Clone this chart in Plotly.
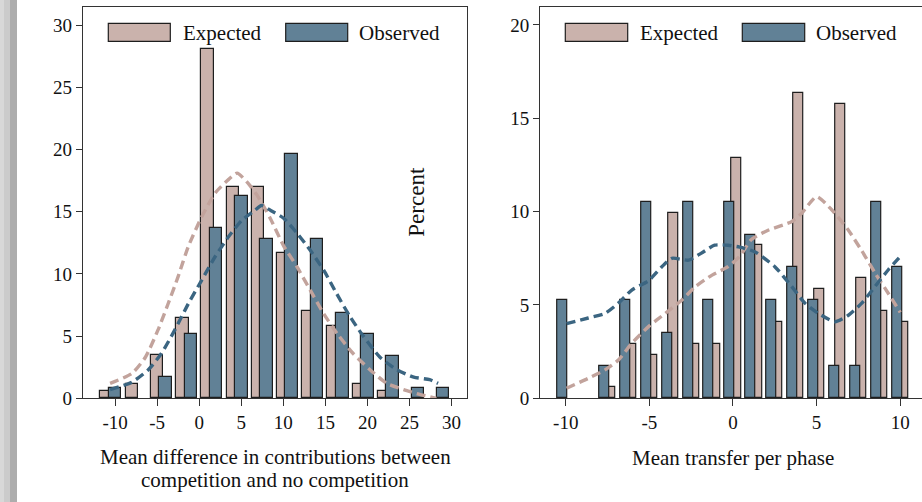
import plotly.graph_objects as go

# ---- Left panel: mean difference in contributions (percent per bin) ----
left_exp_x = [-11, -8, -5, -2, 1, 4, 7, 10, 13, 16, 19, 22]
left_exp_y = [0.58, 1.17, 3.51, 6.43, 28.07, 16.96, 16.96, 11.70, 7.02, 5.85, 1.17, 0.58]

left_obs_x = [-10, -4, -1, 2, 5, 8, 11, 14, 17, 20, 23, 26, 29]
left_obs_y = [0.85, 1.71, 5.13, 13.68, 16.24, 12.82, 19.66, 12.82, 6.84, 5.13, 3.42, 0.85, 0.85]

left_exp_curve_x = [-10.6, -8.0, -6.4, -4.9, -3.7, -2.5, -1.3, 0.3, 1.9, 3.5, 4.5, 5.8, 7.0,
                    8.5, 10.0, 11.6, 13.2, 14.8, 16.4, 18.3, 20.3, 22.3, 24.3, 26.3, 28.2]
left_exp_curve_y = [1.2, 2.0, 3.3, 5.5, 7.6, 9.8, 12.2, 14.6, 16.5, 17.6, 18.1, 17.3, 16.2,
                    14.4, 12.3, 10.6, 8.7, 6.8, 5.2, 3.6, 2.3, 1.2, 0.7, 0.3, 0.0]

left_obs_curve_x = [-10.6, -8.0, -6.05, -4.5, -2.9, -1.3, 0.3, 1.9, 3.5, 5.05, 6.6, 7.4, 8.5,
                    10.0, 11.6, 13.2, 14.8, 16.35, 17.9, 19.5, 21.5, 23.5, 25.5, 27.4, 28.4]
left_obs_curve_y = [0.7, 1.3, 2.3, 3.6, 5.5, 7.6, 9.5, 11.4, 13.0, 14.3, 15.1, 15.5, 15.1,
                    14.5, 13.3, 11.9, 10.3, 8.4, 6.6, 5.0, 3.3, 2.3, 1.7, 1.5, 1.2]

# ---- Right panel: mean transfer per phase (percent per bin) ----
right_exp_x = [-7.325, -6.075, -4.825, -3.575, -2.325, -1.075, 0.175, 1.425, 2.675,
               3.925, 5.175, 6.425, 7.675, 8.925, 10.175]
right_exp_y = [0.58, 2.92, 2.34, 9.94, 2.92, 2.92, 12.87, 8.19, 4.09,
               16.37, 5.85, 15.79, 6.43, 4.68, 4.09]

right_obs_x = [-10.2, -7.7, -6.45, -5.2, -3.95, -2.7, -1.45, -0.2, 1.05, 2.3,
               3.55, 4.8, 6.05, 7.3, 8.55, 9.8]
right_obs_y = [5.26, 1.75, 5.26, 10.53, 3.51, 10.53, 5.26, 10.53, 8.77, 5.26,
               7.02, 5.26, 1.75, 1.75, 10.53, 7.02]

right_exp_curve_x = [-9.95, -8.65, -7.65, -6.85, -6.05, -5.05, -4.05, -3.05, -2.25, -1.25,
                     -0.3, 0.4, 1.1, 2.1, 3.5, 4.1, 5.0, 5.9, 6.9, 7.7, 8.5, 9.3, 10.0]
right_exp_curve_y = [0.54, 1.07, 1.52, 2.05, 2.95, 3.84, 4.55, 5.27, 5.98, 6.6,
                     7.05, 7.6, 8.5, 9.0, 9.46, 9.9, 10.8, 10.1, 9.0, 7.9, 6.7, 5.6, 4.6]

right_obs_curve_x = [-9.95, -8.65, -7.65, -6.85, -6.05, -5.05, -4.25, -3.65, -2.65, -1.85,
                     -1.1, -0.3, 0.4, 1.3, 2.5, 3.5, 4.3, 5.1, 6.1, 6.9, 7.7, 8.5, 9.3, 10.0]
right_obs_curve_y = [4.0, 4.3, 4.55, 5.1, 5.8, 6.3, 7.05, 7.5, 7.4, 7.8,
                     8.2, 8.2, 8.1, 7.85, 7.05, 6.0, 5.1, 4.55, 4.1, 4.45, 5.1, 6.0, 6.9, 7.6]

left_xticks = [-10, -5, 0, 5, 10, 15, 20, 25, 30]
left_xlabels = ["-10", "-5", "0", "5", "10", "15", "20", "25", "30"]
left_yticks = [0, 5, 10, 15, 20, 25, 30]
right_xticks = [-10, -5, 0, 5, 10]
right_xlabels = ["-10", "-5", "0", "5", "10"]
right_yticks = [0, 5, 10, 15, 20]

series_names = ["Expected", "Observed"]
left_title = ["Mean difference in contributions between", "competition and no competition"]
right_title = "Mean transfer per phase"
y_title = "Percent"

# ---- styling ----
W, H = 922, 502
FONT = "Liberation Serif"
PINK = "#cab2ac"
BLUE = "#618196"
PINK_LINE = "#c2a39c"
BLUE_LINE = "#3b6581"
EDGE = "#1e1e1e"
AXIS = "#333333"


def px(x):
    return x / W


def py(y):
    return 1 - y / H


fig = go.Figure()


def add_bars(x, y, color, width, xa, ya):
    fig.add_trace(go.Bar(
        x=x, y=y, width=width, xaxis=xa, yaxis=ya, showlegend=False,
        marker=dict(color=color, line=dict(color=EDGE, width=1.2)),
    ))


def add_curve(x, y, color, xa, ya):
    fig.add_trace(go.Scatter(
        x=x, y=y, mode="lines", xaxis=xa, yaxis=ya, showlegend=False,
        line=dict(color=color, width=3.4, dash="9px,5px", shape="spline", smoothing=0.6),
    ))


add_bars(left_exp_x, left_exp_y, PINK, 1.5, "x", "y")
add_bars(left_obs_x, left_obs_y, BLUE, 1.5, "x", "y")
add_curve(left_exp_curve_x, left_exp_curve_y, PINK_LINE, "x", "y")
add_curve(left_obs_curve_x, left_obs_curve_y, BLUE_LINE, "x", "y")

add_bars(right_exp_x, right_exp_y, PINK, 0.6, "x2", "y2")
add_bars(right_obs_x, right_obs_y, BLUE, 0.6, "x2", "y2")
add_curve(right_exp_curve_x, right_exp_curve_y, PINK_LINE, "x2", "y2")
add_curve(right_obs_curve_x, right_obs_curve_y, BLUE_LINE, "x2", "y2")

ydom = [py(398.3), py(7)]
tickfont = dict(family=FONT, size=19, color="#111")
common = dict(showgrid=False, zeroline=False, showline=True, linecolor=AXIS, linewidth=1.3,
              ticks="outside", tickcolor=AXIS, tickwidth=1.2, tickfont=tickfont,
              automargin=False)

fig.update_layout(
    width=W, height=H,
    margin=dict(l=0, r=0, t=0, b=0),
    paper_bgcolor="white", plot_bgcolor="white",
    barmode="overlay", bargap=0,
    showlegend=False,
    xaxis=dict(domain=[px(83), px(467)], range=[-13.82, 31.84], tickvals=left_xticks,
               ticktext=left_xlabels, ticklen=7, mirror=True, anchor="y", **common),
    yaxis=dict(domain=ydom, range=[0, 31.46], tickvals=left_yticks,
               ticklen=6, mirror=True, anchor="x", **common),
    xaxis2=dict(domain=[px(540.3), 1.0], range=[-11.52, 11.30], tickvals=right_xticks,
                ticktext=right_xlabels, ticklen=7, mirror=True, anchor="y2", **common),
    yaxis2=dict(domain=ydom, range=[0, 20.96], tickvals=right_yticks,
                ticklen=6, mirror=False, anchor="x2", **common),
)

shapes = []
annotations = []

# grey strip along the left edge of the page
for x0, x1, c in [(0, 4, "#d8d8d8"), (4, 10, "#cbcbcb"), (10, 17, "#adadad")]:
    shapes.append(dict(type="rect", xref="paper", yref="paper", x0=px(x0), x1=px(x1),
                       y0=0, y1=1, fillcolor=c, line=dict(width=0), layer="below"))

# hand-drawn legends inside each panel
legend_font = dict(family=FONT, size=21, color="#111")
for boxes in [
    [(108.3, 170.3, 181, PINK, series_names[0]), (285.7, 347.7, 357.3, BLUE, series_names[1])],
    [(565.3, 627.7, 637.7, PINK, series_names[0]), (742.3, 804.7, 814.3, BLUE, series_names[1])],
]:
    for bx0, bx1, tx, col, name in boxes:
        shapes.append(dict(type="rect", xref="paper", yref="paper",
                           x0=px(bx0), x1=px(bx1), y0=py(41.3), y1=py(23.3),
                           fillcolor=col, line=dict(color=EDGE, width=1.2)))
        annotations.append(dict(xref="paper", yref="paper", x=px(tx), y=py(33),
                                text=name, showarrow=False, xanchor="left", yanchor="middle",
                                font=legend_font))

# axis titles; the two-line title uses two annotations for tight line spacing
title_font = dict(family=FONT, size=21, color="#111")
annotations.append(dict(xref="paper", yref="paper", x=px(275), y=py(470), text=left_title[0],
                        showarrow=False, xanchor="center", yanchor="bottom", font=title_font,
                        borderpad=0))
annotations.append(dict(xref="paper", yref="paper", x=px(275), y=py(467), text=left_title[1],
                        showarrow=False, xanchor="center", yanchor="top", font=title_font,
                        borderpad=0))
annotations.append(dict(xref="paper", yref="paper", x=px(733), y=py(458), text=right_title,
                        showarrow=False, xanchor="center", yanchor="middle", font=title_font))
annotations.append(dict(xref="paper", yref="paper", x=px(417), y=py(201.7), text=y_title,
                        textangle=-90, showarrow=False, xanchor="center", yanchor="middle",
                        font=dict(family=FONT, size=23, color="#111")))

fig.update_layout(shapes=shapes, annotations=annotations)

fig.write_html("out.html")
